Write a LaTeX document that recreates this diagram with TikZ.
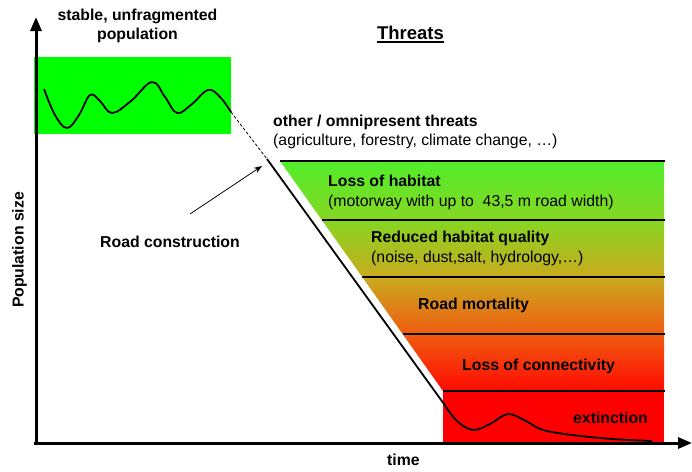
\documentclass[tikz,border=0pt]{standalone}
\usepackage{fontspec}
\setmainfont{Liberation Sans}
\usetikzlibrary{arrows.meta}
\definecolor{popgreen}{RGB}{0,255,0}
\definecolor{extred}{RGB}{255,0,0}
\definecolor{tred}{RGB}{255,10,2}
\definecolor{torange}{RGB}{240,92,16}
\definecolor{tolive}{RGB}{201,170,30}
\definecolor{tlime}{RGB}{134,214,34}
\definecolor{tgreen}{RGB}{82,238,44}
\pgfdeclareverticalshading{threatshade}{100bp}{color(0bp)=(tred); color(25bp)=(tred); color(37.4bp)=(torange); color(49.8bp)=(tolive); color(62.2bp)=(tlime); color(75bp)=(tgreen); color(100bp)=(tgreen)}
\newcommand\twoLeft[3]{\vtop{\baselineskip=#3pt\halign{##\hfil\cr#1\cr#2\cr}}}
\newcommand\twoCenter[3]{\vtop{\baselineskip=#3pt\halign{\hfil##\hfil\cr#1\cr#2\cr}}}
\newcommand\thickUl[1]{\setbox0\hbox{#1}\rlap{\rule[-4.2pt]{\wd0}{1.9pt}}\box0}
\begin{document}
\begin{tikzpicture}[x=1pt,y=-1pt,
  txt/.style={inner sep=0pt,font=\fontsize{15.8}{19}\selectfont},
  boldtxt/.style={txt,font=\fontsize{15.8}{19}\selectfont\bfseries},
  axisline/.style={line width=3pt,-{Triangle[length=14pt,width=11pt]}},
  band/.style={line width=1.3pt},
  popcurve/.style={line width=1.8pt,line join=round},
  pointer/.style={line width=0.8pt,-{Stealth[length=8pt,width=6pt]}}]
\useasboundingbox (0,0) rectangle (692,471);
% boxes
\fill[popgreen] (34,57) rectangle (231,134);
\shade[shading=threatshade] (280,161) -- (664,161) -- (664,391) -- (443,391) -- cycle;
\fill[extred] (443,391) rectangle (664,443);
% band lines
\draw[band] (280,161) -- (665,161);
\draw[band] (321.8,220) -- (665,220);
\draw[band] (362.2,277) -- (665,277);
\draw[band] (402.6,334) -- (665,334);
\draw[line width=2pt] (443,391) -- (665,391);
% axes
\coordinate (origin) at (34,443);
\coordinate (ytop) at (36,17);
\coordinate (xend) at (692,443);
\draw[axisline] (36,445) -- (ytop);
\draw[axisline] (origin) -- (xend);
% population curve
\draw[popcurve] plot[smooth,tension=0.65] coordinates {(44,89) (55,115) (67,128) (79,115) (90,95) (100,101) (112,113) (131,101) (152,82) (165,97) (177,113) (192,104) (208,90) (220,97) (231,112)};
\coordinate (wEnd) at (231,112);
\coordinate (dashEnd) at (267,159);
\coordinate (lineEnd) at (444,404);
\draw[line width=0.8pt,dash pattern=on 3pt off 2pt] (wEnd) -- (dashEnd);
\draw[popcurve] (dashEnd) -- (lineEnd) plot[smooth,tension=0.6] coordinates {(444,404) (457,421) (473,430) (490,424) (508,414) (526,421) (547,431) (600,438) (652,441)};
% road construction pointer
\node[boldtxt,anchor=base west] (road) at (100,247) {Road construction};
\coordinate (roadTip) at (262,166);
\coordinate (roadStart) at (190,214);
\draw[pointer] (roadStart) -- (roadTip);
% texts
\node[boldtxt,anchor=base] (stable) at (137.5,20.7) {\twoCenter{stable, unfragmented}{population}{18.5}};
\node[inner sep=0pt,font=\fontsize{18.5}{22}\selectfont\bfseries,anchor=base] (threats) at (410.5,39) {\thickUl{Threats}};
\node[txt,anchor=base west] (other) at (273,126) {\twoLeft{\bfseries other / omnipresent threats}{(agriculture, forestry, climate change, …)}{19}};
\node[txt,anchor=base west] (habitat) at (328,186) {\twoLeft{\bfseries Loss of habitat}{(motorway with up to\ \ 43,5 m road width)}{20}};
\node[txt,anchor=base west] (quality) at (371,242) {\twoLeft{\bfseries Reduced habitat quality}{(noise, dust,salt, hydrology,…)}{20}};
\node[boldtxt,anchor=base west] (mortality) at (418,309) {Road mortality};
\node[boldtxt,anchor=base west] (connect) at (462,370) {Loss of connectivity};
\node[boldtxt,anchor=base west] (extinct) at (573,423) {extinction};
\node[boldtxt,anchor=base west] (time) at (387,465) {time};
\node[boldtxt,anchor=base,rotate=90] (popsize) at (23.5,250) {Population size};
\end{tikzpicture}
\end{document}
